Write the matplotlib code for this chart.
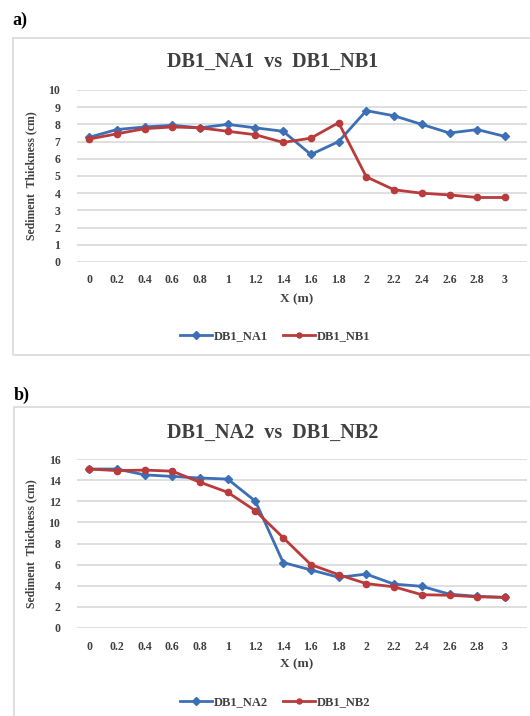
import matplotlib.pyplot as plt
from matplotlib.patches import Rectangle

# Data
x_pos = [0, 0.2, 0.4, 0.6, 0.8, 1, 1.2, 1.4, 1.6, 1.8, 2, 2.2, 2.4, 2.6, 2.8, 3]
x_labels = ['0', '0.2', '0.4', '0.6', '0.8', '1', '1.2', '1.4', '1.6', '1.8',
            '2', '2.2', '2.4', '2.6', '2.8', '3']

db1_na1 = [7.25, 7.7, 7.85, 7.95, 7.8, 8.0, 7.8, 7.6, 6.25, 7.0,
           8.8, 8.5, 8.0, 7.5, 7.7, 7.3]
db1_nb1 = [7.15, 7.45, 7.75, 7.85, 7.8, 7.6, 7.4, 6.95, 7.2, 8.1,
           4.95, 4.2, 4.0, 3.9, 3.75, 3.75]

db1_na2 = [15.05, 15.05, 14.5, 14.35, 14.2, 14.1, 12.0, 6.2, 5.5, 4.8,
           5.1, 4.15, 3.95, 3.2, 3.0, 2.9]
db1_nb2 = [15.05, 14.9, 14.95, 14.85, 13.8, 12.85, 11.1, 8.55, 6.0, 5.05,
           4.2, 3.9, 3.15, 3.1, 2.95, 2.9]

blue = '#3d6fb6'
red = '#b93b3b'
txt = '#404040'
serif = 'Liberation Serif'

W, H = 530, 716
fig = plt.figure(figsize=(W / 100, H / 100), dpi=100)


def fx(px):
    return px / W


def fy(py):
    return 1 - py / H


# chart frames
fig.patches.append(Rectangle((fx(13), fy(355)), fx(540) - fx(13), fy(38) - fy(355),
                             transform=fig.transFigure, fill=False,
                             edgecolor='#d9d9d9', lw=1.2))
fig.patches.append(Rectangle((fx(14), fy(740)), fx(540) - fx(14), fy(407) - fy(740),
                             transform=fig.transFigure, fill=False,
                             edgecolor='#d9d9d9', lw=1.2))

fig.text(fx(12), fy(20), 'a)', fontsize=13, fontweight='bold', family=serif,
         ha='left', va='center', color='black')
fig.text(fx(14), fy(395), 'b)', fontsize=13, fontweight='bold', family=serif,
         ha='left', va='center', color='black')


def make_chart(top, bottom, title, title_y, s1, s2, n1, n2, ymax, ystep,
               xlab_y, leg_y):
    ax = fig.add_axes([fx(77), fy(bottom), fx(527) - fx(77), fy(top) - fy(bottom)])
    ax.plot(x_pos, s1, color=blue, lw=2, marker='D', ms=4.5, label=n1)
    ax.plot(x_pos, s2, color=red, lw=2, marker='o', ms=4.5, label=n2)
    ax.set_xlim(-0.087, 3.159)
    ax.set_ylim(0, ymax)
    ax.set_yticks(range(0, ymax + 1, ystep))
    ax.set_xticks(x_pos)
    ax.set_xticklabels(x_labels)
    ax.grid(axis='y', color='#d9d9d9', lw=1.2)
    ax.set_axisbelow(True)
    for s in ax.spines.values():
        s.set_visible(False)
    ax.tick_params(length=0, labelsize=8.5, labelcolor=txt)
    ax.tick_params(axis='y', pad=12)
    ax.tick_params(axis='x', pad=9)
    for lab in ax.get_xticklabels() + ax.get_yticklabels():
        lab.set_family(serif)
        lab.set_fontweight('bold')
    ax.set_ylabel('Sediment  Thickness (cm)', fontsize=8.5, fontweight='bold',
                  family=serif, color=txt)
    ax.yaxis.set_label_coords(fx(37), 0.5, transform=fig.transFigure)
    ax.yaxis.label.set_y((fy(top) + fy(bottom)) / 2)
    fig.text(fx(273), fy(title_y), title, fontsize=14.5, fontweight='bold',
             family=serif, color=txt, ha='center', va='center')
    fig.text(fx(297), fy(xlab_y), 'X (m)', fontsize=9.5, fontweight='bold',
             family=serif, color=txt, ha='center', va='center')
    fig.legend(*ax.get_legend_handles_labels(), loc='center',
               bbox_to_anchor=(fx(275), fy(leg_y)), ncol=2, frameon=False,
               prop={'family': serif, 'size': 9, 'weight': 'bold'},
               handlelength=2.6, markerscale=0.8,
               columnspacing=1.2, handletextpad=0.1, labelcolor=txt)
    return ax


make_chart(90, 262, 'DB1_NA1  vs  DB1_NB1', 62, db1_na1, db1_nb1,
           'DB1_NA1', 'DB1_NB1', 10, 1, 299, 336)
make_chart(459, 628, 'DB1_NA2  vs  DB1_NB2', 433, db1_na2, db1_nb2,
           'DB1_NA2', 'DB1_NB2', 16, 2, 664, 702)

fig.savefig('out.png', dpi=100)
